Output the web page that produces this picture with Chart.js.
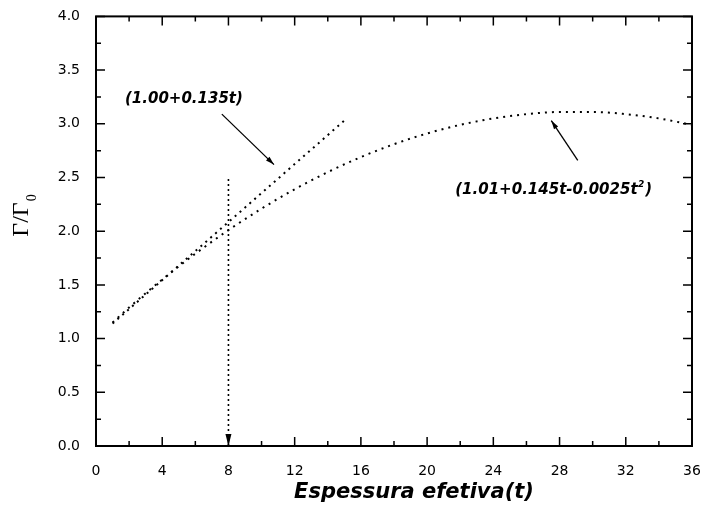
<!DOCTYPE html>
<html>
<head>
<meta charset="utf-8">
<script src="https://cdn.jsdelivr.net/npm/chart.js@4/dist/chart.umd.min.js"></script>
<style>
  body { margin: 0; background: #fff; }
  .wrap { width: 702px; height: 512px; position: relative; }
</style>
</head>
<body>
<div class="wrap"><canvas id="chart"></canvas></div>
<script>
// values
const tQuad = [1, 2, 4, 6, 8, 10, 12, 14, 16, 18, 20, 22, 24, 26, 28, 30, 32, 34, 36];
const gQuad = [1.15, 1.29, 1.55, 1.79, 2.01, 2.21, 2.39, 2.55, 2.69, 2.81, 2.91, 2.99, 3.05, 3.09, 3.11, 3.11, 3.09, 3.05, 2.99];
const tLin = [1, 15];
const gLin = [1.14, 3.03];
const tMark = [8, 8];
const gMark = [0, 2.5];
const xTicks = [0, 4, 8, 12, 16, 20, 24, 28, 32, 36];
const yTicks = [0, 0.5, 1.0, 1.5, 2.0, 2.5, 3.0, 3.5, 4.0];

const toPts = (xs, ys) => xs.map((x, i) => ({ x: x, y: ys[i] }));

const labelFont = 'italic bold 15px "DejaVu Sans", sans-serif';
const supFont = 'italic bold 9px "DejaVu Sans", sans-serif';

// frame, inward ticks, arrows and labels
const decor = {
  id: 'decor',
  afterDraw(chart) {
    const ctx = chart.ctx;
    const a = chart.chartArea;
    const xs = chart.scales.x;
    const ys = chart.scales.y;
    ctx.save();
    ctx.strokeStyle = '#000';
    ctx.fillStyle = '#000';

    // frame
    ctx.lineWidth = 2;
    ctx.strokeRect(a.left, a.top, a.right - a.left, a.bottom - a.top);

    // ticks
    ctx.lineWidth = 1.5;
    ctx.beginPath();
    for (let v = 0; v <= 36; v += 2) {
      const px = xs.getPixelForValue(v);
      const len = v % 4 === 0 ? 9 : 5;
      ctx.moveTo(px, a.bottom); ctx.lineTo(px, a.bottom - len);
      ctx.moveTo(px, a.top); ctx.lineTo(px, a.top + len);
    }
    for (let v = 0; v <= 4.001; v += 0.25) {
      const py = ys.getPixelForValue(v);
      const len = Math.round(v * 4) % 2 === 0 ? 9 : 5;
      ctx.moveTo(a.left, py); ctx.lineTo(a.left + len, py);
      ctx.moveTo(a.right, py); ctx.lineTo(a.right - len, py);
    }
    ctx.stroke();

    function arrow(x1, y1, x2, y2, head) {
      const p1x = xs.getPixelForValue(x1), p1y = ys.getPixelForValue(y1);
      const p2x = xs.getPixelForValue(x2), p2y = ys.getPixelForValue(y2);
      const ang = Math.atan2(p2y - p1y, p2x - p1x);
      ctx.lineWidth = 1.3;
      ctx.beginPath();
      ctx.moveTo(p1x, p1y);
      ctx.lineTo(p2x, p2y);
      ctx.stroke();
      ctx.beginPath();
      ctx.moveTo(p2x, p2y);
      ctx.lineTo(p2x - head * Math.cos(ang - 0.28), p2y - head * Math.sin(ang - 0.28));
      ctx.lineTo(p2x - head * Math.cos(ang + 0.28), p2y - head * Math.sin(ang + 0.28));
      ctx.closePath();
      ctx.fill();
    }
    arrow(7.6, 3.09, 10.75, 2.62, 9);
    arrow(29.1, 2.66, 27.5, 3.03, 9);

    // arrowhead at the bottom of the marker line
    const mx = xs.getPixelForValue(tMark[0]);
    const my = ys.getPixelForValue(0);
    ctx.beginPath();
    ctx.moveTo(mx, my);
    ctx.lineTo(mx - 3, my - 12);
    ctx.lineTo(mx + 3, my - 12);
    ctx.closePath();
    ctx.fill();

    // annotation texts
    ctx.font = labelFont;
    ctx.textBaseline = 'middle';
    ctx.textAlign = 'left';
    ctx.fillText('(1.00+0.135t)', xs.getPixelForValue(1.75), ys.getPixelForValue(3.23));
    const lx = xs.getPixelForValue(21.7), ly = ys.getPixelForValue(2.38);
    const s1 = '(1.01+0.145t-0.0025t';
    ctx.fillText(s1, lx, ly);
    let w = ctx.measureText(s1).width;
    ctx.font = supFont;
    ctx.fillText('2', lx + w + 0.5, ly - 6);
    w += ctx.measureText('2').width + 1.5;
    ctx.font = labelFont;
    ctx.fillText(')', lx + w, ly);

    // x axis title
    ctx.font = 'italic bold 21px "DejaVu Sans", sans-serif';
    ctx.textAlign = 'center';
    ctx.fillText('Espessura efetiva(t)', 414, 493);

    // y axis title
    ctx.translate(25, 216);
    ctx.rotate(-Math.PI / 2);
    ctx.textBaseline = 'alphabetic';
    ctx.textAlign = 'left';
    const main = '\u0393/\u0393';
    ctx.font = '24px "Liberation Serif", "Times New Roman", serif';
    const mw = ctx.measureText(main).width;
    ctx.font = '14px "Liberation Serif", serif';
    const sw = ctx.measureText('0').width;
    const x0 = -(mw + sw) / 2;
    ctx.font = '24px "Liberation Serif", "Times New Roman", serif';
    ctx.fillText(main, x0, 3);
    ctx.font = '14px "Liberation Serif", serif';
    ctx.fillText('0', x0 + mw + 1, 11);
    ctx.restore();
  }
};

new Chart(document.getElementById('chart'), {
  type: 'line',
  data: {
    datasets: [
      {
        data: toPts(tQuad, gQuad),
        borderColor: '#000',
        borderWidth: 2,
        borderDash: [2, 5],
        pointRadius: 0,
        cubicInterpolationMode: 'monotone',
        fill: false
      },
      {
        data: toPts(tLin, gLin),
        borderColor: '#000',
        borderWidth: 2,
        borderDash: [2, 4.5],
        pointRadius: 0,
        fill: false
      },
      {
        data: toPts(tMark, gMark),
        borderColor: '#000',
        borderWidth: 1.6,
        borderDash: [2, 3],
        pointRadius: 0,
        fill: false
      }
    ]
  },
  options: {
    responsive: true,
    maintainAspectRatio: false,
    animation: false,
    layout: { padding: { top: 15, right: 0, left: 0, bottom: 0 } },
    plugins: {
      legend: { display: false },
      tooltip: { enabled: false }
    },
    scales: {
      x: {
        type: 'linear',
        min: 0,
        max: 36,
        grid: { display: false },
        border: { display: false },
        afterBuildTicks: (s) => { s.ticks = xTicks.map(v => ({ value: v })); },
        afterFit: (s) => { s.height = 66; s.paddingRight = 10; s.paddingLeft = 0; },
        ticks: {
          color: '#000',
          padding: 9,
          maxRotation: 0,
          font: { family: '"DejaVu Sans", sans-serif', size: 14 }
        }
      },
      y: {
        type: 'linear',
        min: 0,
        max: 4,
        grid: { display: false },
        border: { display: false },
        afterBuildTicks: (s) => { s.ticks = yTicks.map(v => ({ value: v })); },
        afterFit: (s) => { s.width = 96; },
        ticks: {
          color: '#000',
          padding: 8,
          callback: (v) => Number(v).toFixed(1),
          font: { family: '"DejaVu Sans", sans-serif', size: 14 }
        }
      }
    }
  },
  plugins: [decor]
});
</script>
</body>
</html>
